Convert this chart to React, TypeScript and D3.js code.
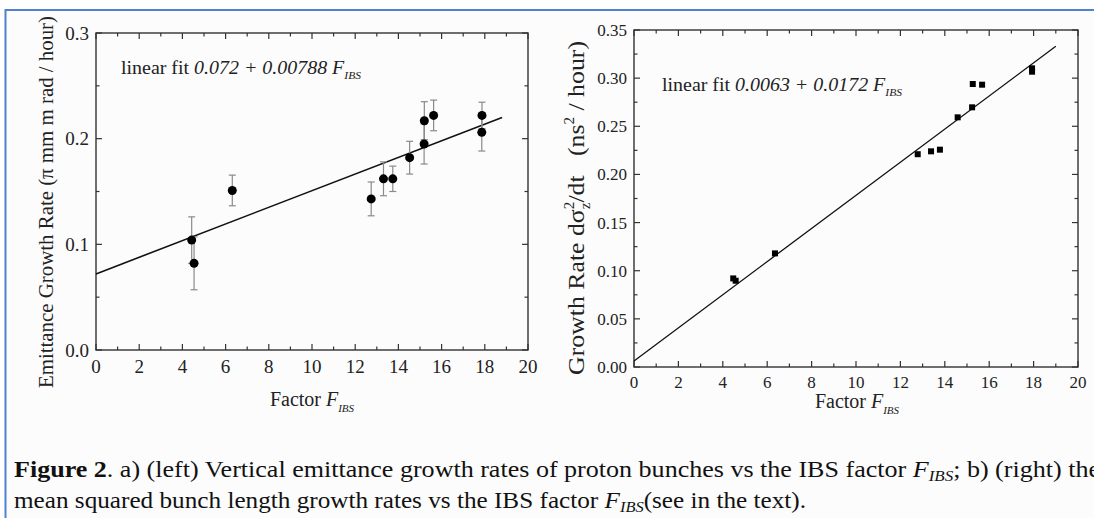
import React from 'react';
import * as d3 from 'd3';

const W = 1094, H = 518;

// panel a: vertical emittance growth rate vs F_IBS
const emitF = [4.43, 4.54, 6.31, 12.74, 13.31, 13.74, 14.52, 15.19, 15.2, 15.63, 17.87, 17.86];
const emitRate = [0.104, 0.082, 0.151, 0.143, 0.162, 0.162, 0.182, 0.195, 0.217, 0.222, 0.222, 0.206];
const emitErr = [0.022, 0.025, 0.0145, 0.016, 0.016, 0.012, 0.0155, 0.019, 0.018, 0.0145, 0.0125, 0.0177];
const emitFit = [0.072, 0.00788];
const emitFitRange = [0, 18.8];
const emitYTicks = [0, 0.1, 0.2, 0.3];
const emitYMinor = [0.05, 0.15, 0.25];

// panel b: bunch length growth rate vs F_IBS
const bunchF = [4.47, 4.58, 6.35, 12.78, 13.38, 13.78, 14.58, 15.23, 15.26, 15.68, 17.93, 17.93];
const bunchRate = [0.092, 0.0896, 0.118, 0.221, 0.224, 0.2257, 0.2593, 0.2697, 0.2939, 0.2932, 0.3102, 0.3067];
const bunchFit = [0.0063, 0.0172];
const bunchFitRange = [0, 19.0];
const bunchYTicks = [0, 0.05, 0.1, 0.15, 0.2, 0.25, 0.3, 0.35];
const bunchYMinor = [0.025, 0.075, 0.125, 0.175, 0.225, 0.275, 0.325];

const xTicks = [0, 2, 4, 6, 8, 10, 12, 14, 16, 18, 20];
const xMinor = [1, 3, 5, 7, 9, 11, 13, 15, 17, 19];

const serif = '"Liberation Serif", "Times New Roman", serif';

type FrameProps = {
  x: d3.ScaleLinear<number, number>;
  y: d3.ScaleLinear<number, number>;
  yTicks: number[];
  yMinor: number[];
  yFmt: (n: number) => string;
  fs: number;
  xLabelDy: number;
};

const Frame = ({ x, y, yTicks, yMinor, yFmt, fs, xLabelDy }: FrameProps) => {
  const [x0, x1] = x.range();
  const [y0, y1] = y.range();
  const big = 6, small = 3.5;
  const c = '#333';
  return (
    <g>
      <rect x={x0} y={y1} width={x1 - x0} height={y0 - y1} fill="none" stroke={c} strokeWidth={1.4} />
      {xTicks.map(t => (
        <g key={'xt' + t}>
          <line x1={x(t)} x2={x(t)} y1={y0} y2={y0 - big} stroke={c} strokeWidth={1.2} />
          <line x1={x(t)} x2={x(t)} y1={y1} y2={y1 + big} stroke={c} strokeWidth={1.2} />
          <text x={x(t)} y={y0 + xLabelDy} textAnchor="middle" fontSize={fs} fill="#222">{t}</text>
        </g>
      ))}
      {xMinor.map(t => (
        <g key={'xm' + t}>
          <line x1={x(t)} x2={x(t)} y1={y0} y2={y0 - small} stroke={c} strokeWidth={1.2} />
          <line x1={x(t)} x2={x(t)} y1={y1} y2={y1 + small} stroke={c} strokeWidth={1.2} />
        </g>
      ))}
      {yTicks.map(t => (
        <g key={'yt' + t}>
          <line x1={x0} x2={x0 + big} y1={y(t)} y2={y(t)} stroke={c} strokeWidth={1.2} />
          <line x1={x1} x2={x1 - big} y1={y(t)} y2={y(t)} stroke={c} strokeWidth={1.2} />
          <text x={x0 - 7} y={y(t)} dy="0.35em" textAnchor="end" fontSize={fs} fill="#222">{yFmt(t)}</text>
        </g>
      ))}
      {yMinor.map(t => (
        <g key={'ym' + t}>
          <line x1={x0} x2={x0 + small} y1={y(t)} y2={y(t)} stroke={c} strokeWidth={1.2} />
          <line x1={x1} x2={x1 - small} y1={y(t)} y2={y(t)} stroke={c} strokeWidth={1.2} />
        </g>
      ))}
    </g>
  );
};

const App = () => {
  const xa = d3.scaleLinear().domain([0, 20]).range([96, 528]);
  const ya = d3.scaleLinear().domain([0, 0.3]).range([350, 33]);
  const xb = d3.scaleLinear().domain([0, 20]).range([634, 1078]);
  const yb = d3.scaleLinear().domain([0, 0.35]).range([367, 30]);

  const fitLine = (fit: number[], range: number[], x: d3.ScaleLinear<number, number>, y: d3.ScaleLinear<number, number>) =>
    d3.line<number>().x(d => x(d)).y(d => y(fit[0] + fit[1] * d))(range) || '';

  return (
    <svg width={W} height={H} style={{ position: 'absolute', left: 0, top: 0, background: '#fff' }} fontFamily={serif}>
      <rect x={6} y={10} width={W} height={H} fill="#fcfcfc" />
      <line x1={5.5} x2={5.5} y1={9} y2={H} stroke="#4f80d2" strokeWidth={2} />
      <line x1={5} x2={W} y1={10} y2={10} stroke="#4f80d2" strokeWidth={2} />

      {/* panel a */}
      <Frame x={xa} y={ya} yTicks={emitYTicks} yMinor={emitYMinor} yFmt={d3.format('.1f')} fs={19} xLabelDy={23} />
      <path d={fitLine(emitFit, emitFitRange, xa, ya)} fill="none" stroke="#111" strokeWidth={1.6} />
      {emitF.map((f, i) => (
        <g key={'e' + i} stroke="#8a8a8a" strokeWidth={1.2}>
          <line x1={xa(f)} x2={xa(f)} y1={ya(emitRate[i] - emitErr[i])} y2={ya(emitRate[i] + emitErr[i])} />
          <line x1={xa(f) - 3.5} x2={xa(f) + 3.5} y1={ya(emitRate[i] - emitErr[i])} y2={ya(emitRate[i] - emitErr[i])} />
          <line x1={xa(f) - 3.5} x2={xa(f) + 3.5} y1={ya(emitRate[i] + emitErr[i])} y2={ya(emitRate[i] + emitErr[i])} />
        </g>
      ))}
      {emitF.map((f, i) => (
        <circle key={'ed' + i} cx={xa(f)} cy={ya(emitRate[i])} r={4.5} fill="#000" />
      ))}
      <text x={121} y={74} fontSize={19} fill="#222" textLength={240} lengthAdjust="spacingAndGlyphs">
        linear fit <tspan fontStyle="italic">0.072 + 0.00788 F</tspan>
        <tspan fontStyle="italic" fontSize={11} dy={5}>IBS</tspan>
      </text>
      <text transform="translate(53,202) rotate(-90)" textAnchor="middle" fontSize={21} fill="#222" textLength={372} lengthAdjust="spacingAndGlyphs">
        Emittance Growth Rate (π mm m rad / hour)
      </text>
      <text x={312} y={406} textAnchor="middle" fontSize={20} fill="#222">
        Factor <tspan fontStyle="italic">F</tspan>
        <tspan fontStyle="italic" fontSize={11} dy={6}>IBS</tspan>
      </text>

      {/* panel b */}
      <Frame x={xb} y={yb} yTicks={bunchYTicks} yMinor={bunchYMinor} yFmt={d3.format('.2f')} fs={17} xLabelDy={21} />
      <path d={fitLine(bunchFit, bunchFitRange, xb, yb)} fill="none" stroke="#111" strokeWidth={1.3} />
      {bunchF.map((f, i) => (
        <rect key={'b' + i} x={xb(f) - 3} y={yb(bunchRate[i]) - 3} width={6} height={6} fill="#000" />
      ))}
      <text x={662} y={91} fontSize={19} fill="#222" textLength={240} lengthAdjust="spacingAndGlyphs">
        linear fit <tspan fontStyle="italic">0.0063 + 0.0172 F</tspan>
        <tspan fontStyle="italic" fontSize={11} dy={5}>IBS</tspan>
      </text>
      <text transform="translate(584,208) rotate(-90)" textAnchor="middle" fontSize={24} fill="#222" textLength={334} lengthAdjust="spacingAndGlyphs">
        Growth Rate dσ<tspan fontSize={14} dy={-10}>2</tspan>
        <tspan fontSize={14} dx={-7} dy={16}>z</tspan>
        <tspan dy={-6}>/dt</tspan>
        <tspan dx={18}>(ns</tspan>
        <tspan fontSize={14} dy={-10}>2</tspan>
        <tspan dy={10}> / hour)</tspan>
      </text>
      <text x={857} y={408} textAnchor="middle" fontSize={20} fill="#222">
        Factor <tspan fontStyle="italic">F</tspan>
        <tspan fontStyle="italic" fontSize={11} dy={6}>IBS</tspan>
      </text>

      {/* caption */}
      <text x={14} y={477} fontSize={23} fill="#111" textLength={1086} lengthAdjust="spacingAndGlyphs">
        <tspan fontWeight="bold">Figure 2</tspan>. a) (left) Vertical emittance growth rates of proton bunches vs the IBS factor <tspan fontStyle="italic">F</tspan>
        <tspan fontStyle="italic" fontSize={15} dy={4}>IBS</tspan>
        <tspan dy={-4}>; b) (right) the</tspan>
      </text>
      <text x={14} y={508} fontSize={23} fill="#111" textLength={792} lengthAdjust="spacingAndGlyphs">
        mean squared bunch length growth rates vs the IBS factor <tspan fontStyle="italic">F</tspan>
        <tspan fontStyle="italic" fontSize={15} dy={4}>IBS</tspan>
        <tspan dy={-4}>(see in the text).</tspan>
      </text>
    </svg>
  );
};

export default App;
